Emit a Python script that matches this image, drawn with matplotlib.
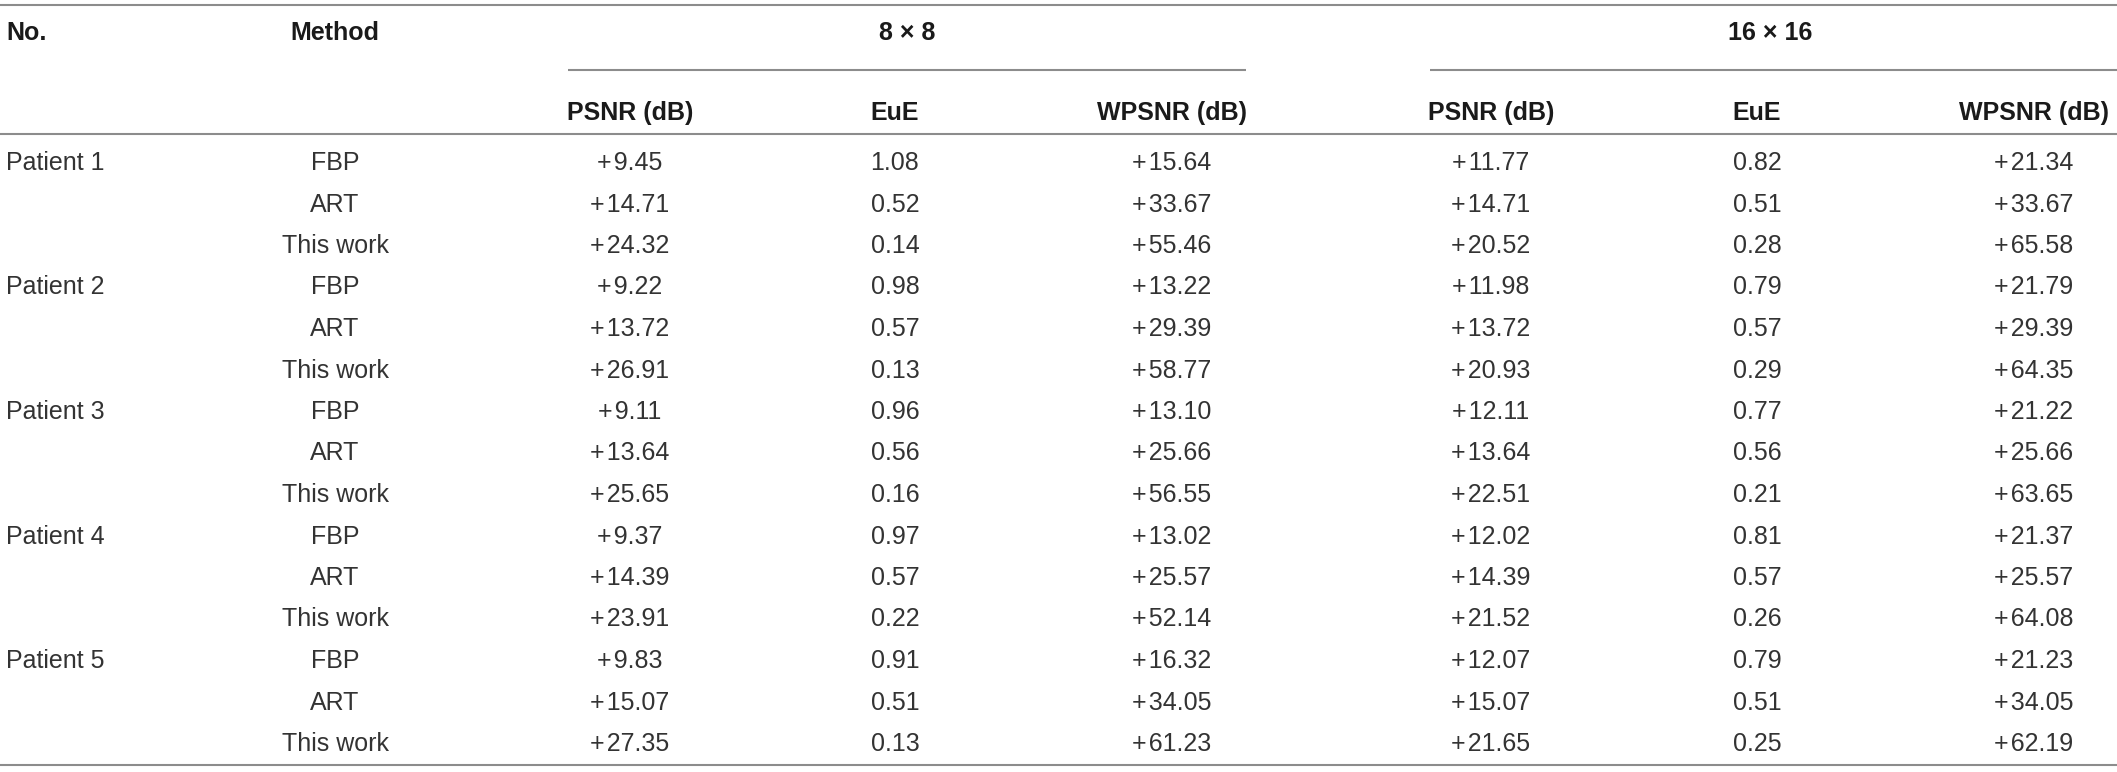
import matplotlib
matplotlib.use("Agg")
import matplotlib.pyplot as plt

plt.rcParams['font.family'] = ['Liberation Sans', 'DejaVu Sans']

patients = ["Patient 1", "Patient 2", "Patient 3", "Patient 4", "Patient 5"]
methods = ["FBP", "ART", "This work"]
groups = ["8 \u00d7 8", "16 \u00d7 16"]
metrics = ["PSNR (dB)", "EuE", "WPSNR (dB)"]

# 8 x 8 block, rows: patient-major, method-minor
psnr_8 = ["+9.45", "+14.71", "+24.32", "+9.22", "+13.72", "+26.91", "+9.11", "+13.64", "+25.65",
          "+9.37", "+14.39", "+23.91", "+9.83", "+15.07", "+27.35"]
eue_8 = ["1.08", "0.52", "0.14", "0.98", "0.57", "0.13", "0.96", "0.56", "0.16",
         "0.97", "0.57", "0.22", "0.91", "0.51", "0.13"]
wpsnr_8 = ["+15.64", "+33.67", "+55.46", "+13.22", "+29.39", "+58.77", "+13.10", "+25.66", "+56.55",
           "+13.02", "+25.57", "+52.14", "+16.32", "+34.05", "+61.23"]

# 16 x 16 block
psnr_16 = ["+11.77", "+14.71", "+20.52", "+11.98", "+13.72", "+20.93", "+12.11", "+13.64", "+22.51",
           "+12.02", "+14.39", "+21.52", "+12.07", "+15.07", "+21.65"]
eue_16 = ["0.82", "0.51", "0.28", "0.79", "0.57", "0.29", "0.77", "0.56", "0.21",
          "0.81", "0.57", "0.26", "0.79", "0.51", "0.25"]
wpsnr_16 = ["+21.34", "+33.67", "+65.58", "+21.79", "+29.39", "+64.35", "+21.22", "+25.66", "+63.65",
            "+21.37", "+25.57", "+64.08", "+21.23", "+34.05", "+62.19"]

W, H = 2117, 772
fig = plt.figure(figsize=(W / 100, H / 100), dpi=100)
ax = fig.add_axes([0, 0, 1, 1])
ax.set_xlim(0, W)
ax.set_ylim(H, 0)
ax.axis('off')

txt_col = '#333333'
head_col = '#1a1a1a'
line_col = '#8c8c8c'
fs_val = 18
fs_head = 18

# layout (pixel units)
x_no = 6
x_method = 335
col_x = [[630, 895, 1172], [1491, 1757, 2034]]
group_x = [907, 1770]
group_lines = [(568, 1246), (1430, 2117)]
y_head1 = 33
y_head2 = 113
y_row0 = 163
dy = 41.5


def fmt(s):
    # tiny gap after the plus sign, as in the source
    return s.replace("+", "+\u200a") if s.startswith("+") else s


# rules
for y in (5, 134, 765):
    ax.plot([0, W], [y, y], color=line_col, lw=1.5, solid_capstyle='butt')
for x0, x1 in group_lines:
    ax.plot([x0, x1], [70, 70], color=line_col, lw=1.5, solid_capstyle='butt')

# header
ax.text(x_no, y_head1, "No.", ha='left', va='center', fontsize=fs_head, fontweight='bold', color=head_col)
ax.text(x_method, y_head1, "Method", ha='center', va='center', fontsize=fs_head, fontweight='bold', color=head_col)
for g, gx in zip(groups, group_x):
    ax.text(gx, y_head1, g, ha='center', va='center', fontsize=fs_head, fontweight='bold', color=head_col)
for cols in col_x:
    for m, cx in zip(metrics, cols):
        ax.text(cx, y_head2, m, ha='center', va='center', fontsize=fs_head, fontweight='bold', color=head_col)

# body
blocks = [[psnr_8, eue_8, wpsnr_8], [psnr_16, eue_16, wpsnr_16]]
for i in range(len(patients) * len(methods)):
    y = y_row0 + i * dy
    if i % len(methods) == 0:
        ax.text(x_no, y, patients[i // len(methods)], ha='left', va='center', fontsize=fs_val, color=txt_col)
    ax.text(x_method, y, methods[i % len(methods)], ha='center', va='center', fontsize=fs_val, color=txt_col)
    for cols, block in zip(col_x, blocks):
        for cx, series in zip(cols, block):
            ax.text(cx, y, fmt(series[i]), ha='center', va='center', fontsize=fs_val, color=txt_col)

fig.savefig("out.png", dpi=100)
